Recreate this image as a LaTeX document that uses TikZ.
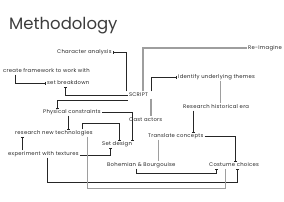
\documentclass[tikz,border=0pt]{standalone}
\usepackage{fontspec}
\setmainfont{Poppins}
\newfontfamily\tracked[LetterSpace=5]{Poppins}
\usepackage{tikz}
\usetikzlibrary{arrows.meta}
\definecolor{ink}{HTML}{262626}
\definecolor{soft}{HTML}{9E9E9E}

\begin{document}
\begin{tikzpicture}[x=1pt,y=-1pt,
  lbl/.style={font=\tracked\fontsize{5.3}{6}\selectfont,text=ink,inner sep=1pt,
    text height=3.8pt,text depth=1pt},
  dk/.style={draw=ink,line width=0.6pt},
  gy/.style={draw=soft,line width=1.1pt},
  tk/.style={-{Bar[width=3pt,line width=0.6pt]}}]
 \useasboundingbox (0,0) rectangle (284,201);
 \node[anchor=base west,font=\fontsize{16.5}{20}\selectfont,text=ink!90,inner sep=0pt]
    (title) at (9,29) {Methodology};
 % labels
 \node[lbl] (script) at (138.5,95) {SCRIPT};
 \node[lbl,anchor=west] (charan) at (56,52) {Character analysis};
 \node[lbl,anchor=west] (reimag) at (247,48) {Re-Imagine};
 \node[lbl,anchor=west] (frame) at (2,71) {create framework to work with};
 \node[lbl,anchor=west] (themes) at (177,77) {Identify underlying themes};
 \node[lbl,anchor=west] (breakd) at (46,83) {set breakdown};
 \node[lbl,anchor=west] (hist) at (182,107) {Research historical era};
 \node[lbl,anchor=west] (phys) at (42,112) {Physical constraints};
 \node[lbl,anchor=west] (cast) at (128,120) {Cast actors};
 \node[lbl,anchor=west] (resnew) at (14,133) {research new technologies};
 \node[lbl,anchor=west] (transl) at (147,136) {Translate concepts};
 \node[lbl,anchor=west] (setdes) at (101,144) {Set design};
 \node[lbl,anchor=west] (exper) at (7,154) {experiment with textures};
 \node[lbl,anchor=west] (bohem) at (106,165) {Bohemian \& Bourgouise};
 \node[lbl,anchor=west] (costume) at (208,165) {Costume choices};
 % from the script
 \draw[dk,tk] ([xshift=-12.5pt]script.north) |- (charan.east);
 \draw[gy] ([xshift=4.5pt]script.north) |- (reimag.west);
 \draw[dk,tk] ([xshift=12.5pt]script.north) |- (themes.west);
 \draw[dk,tk] (script.west) -| ([xshift=-2.5pt]breakd.south);
 \draw[dk,tk] ([yshift=-5pt]script.west) -| ([xshift=-14.5pt]phys.north);
 \draw[gy] ([xshift=12.5pt]script.south) -- ([xshift=12.5pt]script.south |- cast.north);
 \draw[dk,tk] ([xshift=13pt]frame.south west) |- (breakd.west);
 % themes and concepts
 \draw[gy] ([xshift=3.5pt]themes.south) -- ([xshift=3.5pt]themes.south |- hist.north);
 \draw[dk,tk] ([xshift=-22.5pt]hist.south) -- ([xshift=-22.5pt]hist.south |- transl.north);
 \draw[dk,tk] (transl.east) -| ([xshift=1.5pt]costume.north);
 \draw[gy] ([xshift=-17.5pt]transl.south) -- ([xshift=-17.5pt]transl.south |- bohem.north);
 % set design
 \draw[dk,tk] (phys.east) -| ([xshift=-1pt]setdes.north east);
 \draw[dk,tk] ([xshift=-3.5pt]phys.south) -- ([xshift=-3.5pt]phys.south |- resnew.north);
 \draw[dk,tk] ([xshift=28pt]resnew.north) -- ++(0,-6) -| ([xshift=2.5pt]setdes.north);
 \draw[dk,tk] ([xshift=-21pt]exper.north) -- ([xshift=-21pt]exper.north |- resnew.south);
 \draw[dk,tk] ([yshift=-1.5pt]exper.east) -| ([xshift=-6.5pt]setdes.south);
 % costume choices
 \draw[dk,tk] ([xshift=-5.5pt]bohem.south) -- ++(0,5) -| ([xshift=-17.5pt]costume.south);
 \draw[dk,tk] ([xshift=4pt]exper.south) -- ++(0,25) -| ([xshift=3.5pt]costume.south);
 \draw[gy] ([xshift=34pt]resnew.south) -- ++(0,52) -| ([xshift=-8.5pt]costume.south);
\end{tikzpicture}
\end{document}
